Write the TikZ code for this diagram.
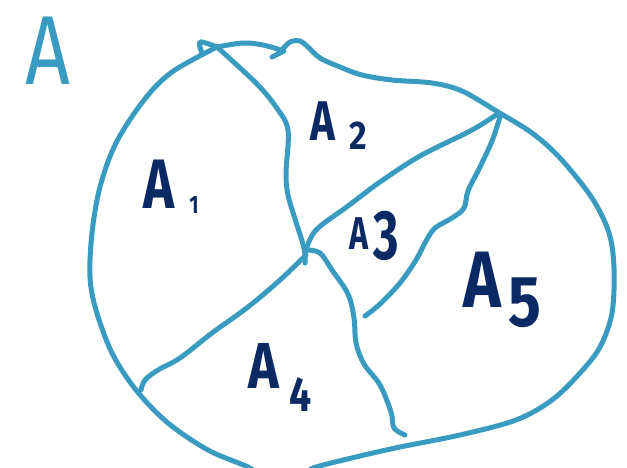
\documentclass[tikz,border=0pt]{standalone}
\usepackage{fontspec}
\setmainfont{Fira Sans}
\definecolor{penteal}{HTML}{3A9BC1}
\definecolor{pennavy}{HTML}{0B2A63}
\tikzset{
  pen/.style={draw=penteal, line width=5pt, line cap=round, line join=round},
  lbl/.style={text=pennavy, inner sep=0pt, anchor=center, font=\bfseries},
}
\newcommand{\fs}[1]{\fontsize{#1}{#1}\selectfont}
\begin{document}
\begin{tikzpicture}[x=1pt, y=-1pt]
\useasboundingbox (0,0) rectangle (627,467);
% outer boundary, left and top part
\draw[pen] plot[smooth, tension=0.55] coordinates {
  (202,53) (200,42) (217,47)};
\draw[pen] plot[smooth, tension=0.55] coordinates {
  (217,47) (243,43) (263,45) (284,51)} -- (272,57);
\draw[pen] plot[smooth, tension=0.55] coordinates {
  (217,47) (172,72) (144,100) (116,143) (100,187) (92,233) (90,277)
  (96,310) (112,353) (136,390) (168,423) (208,450) (248,467) (258,475)};
% outer boundary, right part
\draw[pen] plot[smooth, tension=0.55] coordinates {
  (282,50) (290,42) (300,41) (308,47) (320,58) (340,67) (362,75)
  (392,80) (432,83) (462,91) (498,112) (532,133) (560,158) (592,198)
  (609,233) (614,268) (612,313) (600,347) (580,373) (552,400)
  (516,420) (460,435) (400,447) (360,456) (316,467) (308,472)};
% divider A1 / A2
\draw[pen] plot[smooth, tension=0.55] coordinates {
  (217,47) (256,83) (276,107) (288,130) (286,173) (288,195)
  (296,222) (304,248) (305,263)};
% divider A2 / A3
\draw[pen] plot[smooth, tension=0.55] coordinates {
  (306,250) (316,230) (348,206) (380,182) (420,156) (472,130) (499,113)};
% divider A3 / A5
\draw[pen] plot[smooth, tension=0.55] coordinates {
  (500,117) (492,141) (480,167) (468,191) (464,208) (452,218)
  (435,228) (426,241) (416,260) (400,283) (380,304) (365,316)};
% divider A1 / A4
\draw[pen] plot[smooth, tension=0.55] coordinates {
  (306,255) (280,280) (248,307) (212,333) (180,358) (158,370)
  (145,380) (141,390)};
% divider A4 / A5
\draw[pen] plot[smooth, tension=0.55] coordinates {
  (307,250) (320,253) (332,270) (348,294) (354,318) (356,343)
  (364,364) (380,385) (391,412) (394,428) (405,435)};
% labels
\node[lbl, text=penteal, font=\mdseries, xscale=0.8] (lA) at (48,51) {\fs{98}A};
\node[lbl, xscale=0.75] (a1) at (159,184) {\fs{70}A};
\node[lbl, xscale=0.8] (a1s) at (194,205) {\fs{25}1};
\node[lbl, xscale=0.75] (a2) at (323,121) {\fs{56}A};
\node[lbl, xscale=0.85] (a2s) at (358,136) {\fs{40}2};
\node[lbl, xscale=0.7] (a3) at (359,234) {\fs{46}A};
\node[lbl, xscale=0.7] (a3s) at (386,236) {\fs{70}3};
\node[lbl, xscale=0.8] (a4) at (264,366) {\fs{65}A};
\node[lbl, xscale=0.8] (a4s) at (301,395) {\fs{49}4};
\node[lbl, xscale=0.8] (a5) at (482,280) {\fs{80}A};
\node[lbl, xscale=0.85] (a5s) at (525,303) {\fs{72}5};
\end{tikzpicture}
\end{document}
